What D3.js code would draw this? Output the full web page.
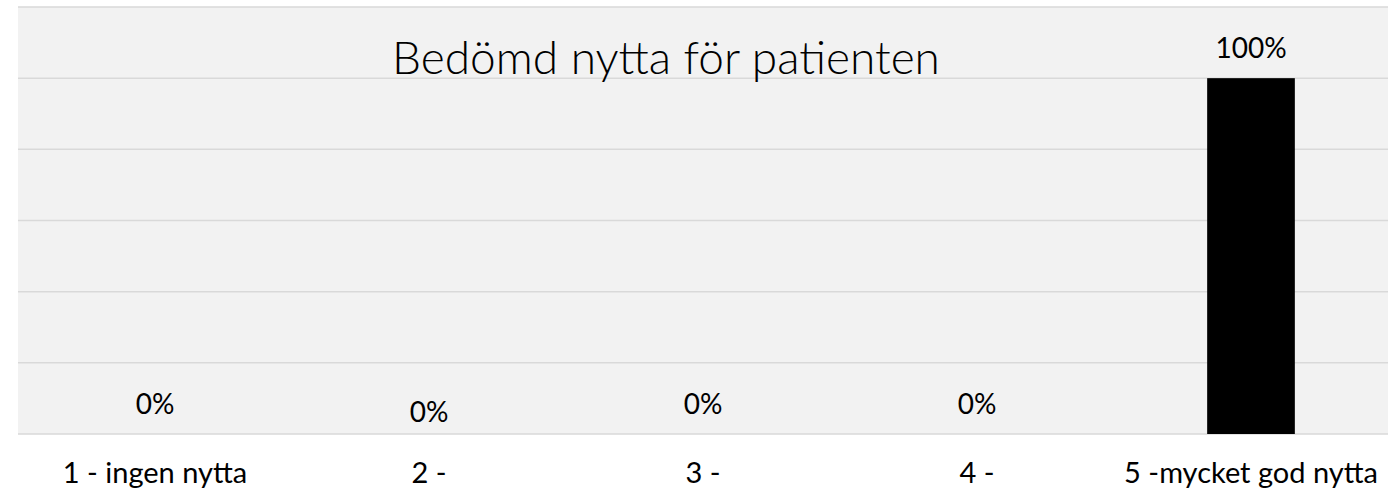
<!DOCTYPE html>
<html>
<head>
<meta charset="utf-8">
<script src="https://cdn.jsdelivr.net/npm/d3@7"></script>
<style>
  body { margin: 0; background: #fff; }
  svg { display: block; font-family: Lato, "Open Sans", sans-serif; }
</style>
</head>
<body>
<svg id="chart"></svg>
<script>
const categories = ["1 - ingen nytta", "2 -", "3 -", "4 -", "5 -mycket god nytta"];
const shares = [0, 0, 0, 0, 100];
const yTicks = [0, 20, 40, 60, 80, 100, 120];
const chartTitle = "Bedömd nytta för patienten";

const width = 1399;
const height = 492;
const margin = { top: 7, right: 11, bottom: 58, left: 18 };

const svg = d3.select("#chart").attr("width", width).attr("height", height);

const x = d3.scaleBand()
  .domain(categories)
  .range([margin.left, width - margin.right])
  .paddingInner(0.68)
  .paddingOuter(0.34);

const y = d3.scaleLinear()
  .domain([0, 120])
  .range([height - margin.bottom, margin.top]);

// plot background
svg.append("rect")
  .attr("x", margin.left)
  .attr("y", margin.top)
  .attr("width", width - margin.left - margin.right)
  .attr("height", y(0) - margin.top)
  .attr("fill", "#f2f2f2");

// gridlines
svg.append("g")
  .selectAll("line")
  .data(yTicks)
  .join("line")
  .attr("x1", margin.left)
  .attr("x2", width - margin.right)
  .attr("y1", (d) => y(d))
  .attr("y2", (d) => y(d))
  .attr("stroke", "#d9d9d9")
  .attr("stroke-width", 1.5);

// bars
svg.append("g")
  .selectAll("rect")
  .data(shares)
  .join("rect")
  .attr("x", (_, i) => x(categories[i]))
  .attr("y", (d) => y(d))
  .attr("width", x.bandwidth())
  .attr("height", (d) => y(0) - y(d))
  .attr("fill", "#000");

// data labels (the second one sits a bit lower in the original)
svg.append("g")
  .selectAll("text")
  .data(shares)
  .join("text")
  .attr("x", (_, i) => x(categories[i]) + x.bandwidth() / 2)
  .attr("y", (d, i) => y(d) - 20 + (i === 1 ? 8 : 0))
  .attr("text-anchor", "middle")
  .attr("font-size", 28)
  .attr("fill", "#000")
  .text((d) => d + "%");

// category axis
const xAxis = svg.append("g")
  .attr("transform", `translate(0,${y(0)})`)
  .call(d3.axisBottom(x).tickSize(0));
xAxis.select(".domain").remove();
xAxis.selectAll("text")
  .attr("y", 49)
  .attr("dy", null)
  .attr("font-size", 29)
  .attr("font-family", "Lato, Open Sans, sans-serif")
  .attr("fill", "#000");

// title
svg.append("text")
  .attr("x", 666)
  .attr("y", 74)
  .attr("text-anchor", "middle")
  .attr("font-size", 46)
  .attr("font-weight", 300)
  .attr("fill", "#000")
  .text(chartTitle);
</script>
</body>
</html>
